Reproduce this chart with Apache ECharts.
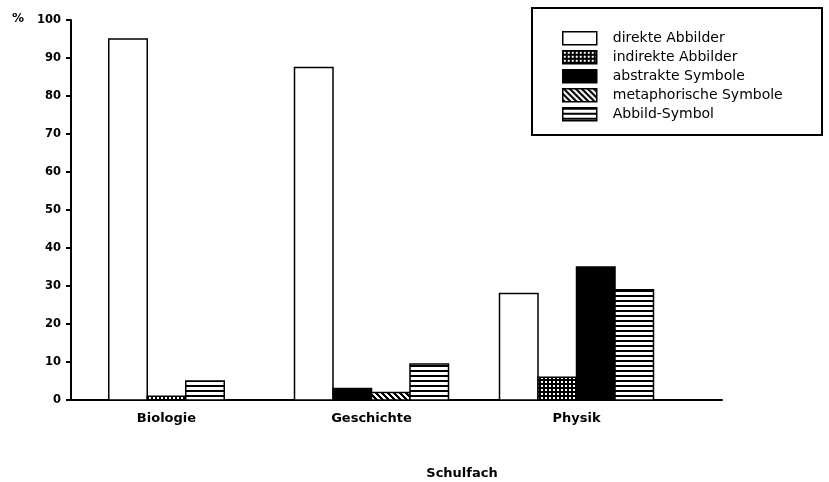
<!DOCTYPE html>
<html>
<head>
<meta charset="utf-8">
<title>Schulfach</title>
<script src="https://cdn.jsdelivr.net/npm/echarts@6/dist/echarts.min.js"></script>
<style>
  html, body { margin: 0; padding: 0; background: #fff; }
  #chart { width: 829px; height: 482px; }
</style>
</head>
<body>
<div id="chart"></div>
<script>
// data (percent)
var categories = ['Biologie', 'Geschichte', 'Physik'];
var seriesNames = ['direkte Abbilder', 'indirekte Abbilder', 'abstrakte Symbole', 'metaphorische Symbole', 'Abbild-Symbol'];
var direkteAbbilder = [95, 87.5, 28];
var indirekteAbbilder = [1, 0, 6];
var abstrakteSymbole = [0, 3, 35];
var metaphorischeSymbole = [0, 2, 0];
var abbildSymbol = [5, 9.5, 29];
var yTicks = [0, 10, 20, 30, 40, 50, 60, 70, 80, 90, 100];

var allValues = [direkteAbbilder, indirekteAbbilder, abstrakteSymbole, metaphorischeSymbole, abbildSymbol];

var BAR_W = 38.5;
var FONT = '"DejaVu Sans", sans-serif';

// small canvas tiles used as fill patterns
function makePattern(w, h, draw) {
    var c = document.createElement('canvas');
    c.width = w;
    c.height = h;
    var ctx = c.getContext('2d');
    ctx.fillStyle = '#fff';
    ctx.fillRect(0, 0, w, h);
    ctx.fillStyle = '#000';
    draw(ctx);
    return { image: c, repeat: 'repeat' };
}

var gridFill = makePattern(4, 4, function(ctx) {
    ctx.fillRect(0, 0, 4, 4);
    ctx.fillStyle = '#fff';
    ctx.fillRect(1, 1, 2, 2);
});
var diagFill = makePattern(6, 6, function(ctx) {
    for (var y = 0; y < 6; y++) {
        for (var x = 0; x < 6; x++) {
            if (((x - y) % 6 + 6) % 6 < 3) ctx.fillRect(x, y, 1, 1);
        }
    }
});
var stripeFill = makePattern(4, 5, function(ctx) {
    ctx.fillRect(0, 0, 4, 2);
});

var fills = ['#fff', gridFill, '#000', diagFill, stripeFill];

// zero bars are left out, the remaining bars of a subject sit side by side
function packedSlots(cat) {
    var list = [];
    allValues.forEach(function(arr, i) {
        if (arr[cat] > 0) list.push(i);
    });
    return list;
}

function makeRender(seriesIdx) {
    return function(params, api) {
        var cat = api.value(0);
        var val = api.value(1);
        if (!(val > 0)) return null;
        var slots = packedSlots(cat);
        var pos = slots.indexOf(seriesIdx);
        var base = api.coord([cat, 0]);
        var top = api.coord([cat, val]);
        var x = base[0] + (pos - slots.length / 2) * BAR_W;
        return {
            type: 'rect',
            shape: { x: x, y: top[1], width: BAR_W, height: base[1] - top[1] },
            style: { fill: fills[seriesIdx], stroke: '#000', lineWidth: 1.5 }
        };
    };
}

var series = seriesNames.map(function(name, i) {
    return {
        name: name,
        type: 'custom',
        xAxisIndex: 1,
        yAxisIndex: 1,
        itemStyle: { color: fills[i], borderColor: '#000', borderWidth: 1.5 },
        renderItem: makeRender(i),
        encode: { x: 0, y: 1 },
        data: allValues[i].map(function(v, c) { return [c, v]; })
    };
});

var chart = echarts.init(document.getElementById('chart'));

chart.setOption({
    backgroundColor: '#fff',
    animation: false,
    grid: [
        // axes frame
        { left: 71, right: 107, top: 20, bottom: 82 },
        // bars
        { left: 64, right: 150, top: 20, bottom: 82 }
    ],
    xAxis: [
        {
            type: 'value', gridIndex: 0, min: 0, max: 1,
            axisLine: { show: true, lineStyle: { color: '#000', width: 2 } },
            axisTick: { show: false },
            axisLabel: { show: false },
            splitLine: { show: false }
        },
        {
            type: 'category', gridIndex: 1, data: categories,
            axisLine: { show: false },
            axisTick: { show: false },
            axisLabel: { margin: 12, color: '#000', fontFamily: FONT, fontSize: 13, fontWeight: 'bold' }
        }
    ],
    yAxis: [
        {
            type: 'value', gridIndex: 0,
            min: yTicks[0], max: yTicks[yTicks.length - 1], interval: 10,
            axisLine: { show: true, lineStyle: { color: '#000', width: 2 } },
            axisTick: { show: true, length: 5, lineStyle: { color: '#000', width: 2 } },
            axisLabel: { margin: 10, color: '#000', fontFamily: FONT, fontSize: 11.5, fontWeight: 'bold', padding: [0, 0, 4, 0] },
            splitLine: { show: false }
        },
        {
            type: 'value', gridIndex: 1, min: 0, max: 100, show: false,
            splitLine: { show: false }
        }
    ],
    legend: {
        orient: 'vertical',
        left: 557,
        top: 26,
        icon: 'rect',
        itemWidth: 34,
        itemHeight: 13,
        itemGap: 4.5,
        selectedMode: false,
        itemStyle: { borderColor: '#000', borderWidth: 1.5 },
        textStyle: { color: '#000', fontFamily: FONT, fontSize: 14, lineHeight: 14, padding: [0, 0, 0, 11] },
        data: seriesNames
    },
    graphic: [
        {
            type: 'rect', z: 0,
            shape: { x: 532, y: 8, width: 290, height: 127 },
            style: { fill: 'transparent', stroke: '#000', lineWidth: 2 }
        },
        {
            type: 'text', left: 12, top: 13,
            style: { text: '%', fill: '#000', font: 'bold 12px ' + FONT }
        },
        {
            type: 'text', x: 462, y: 474,
            style: { text: 'Schulfach', fill: '#000', font: 'bold 13px ' + FONT, textAlign: 'center', textVerticalAlign: 'middle' }
        }
    ],
    series: series
});
</script>
</body>
</html>
